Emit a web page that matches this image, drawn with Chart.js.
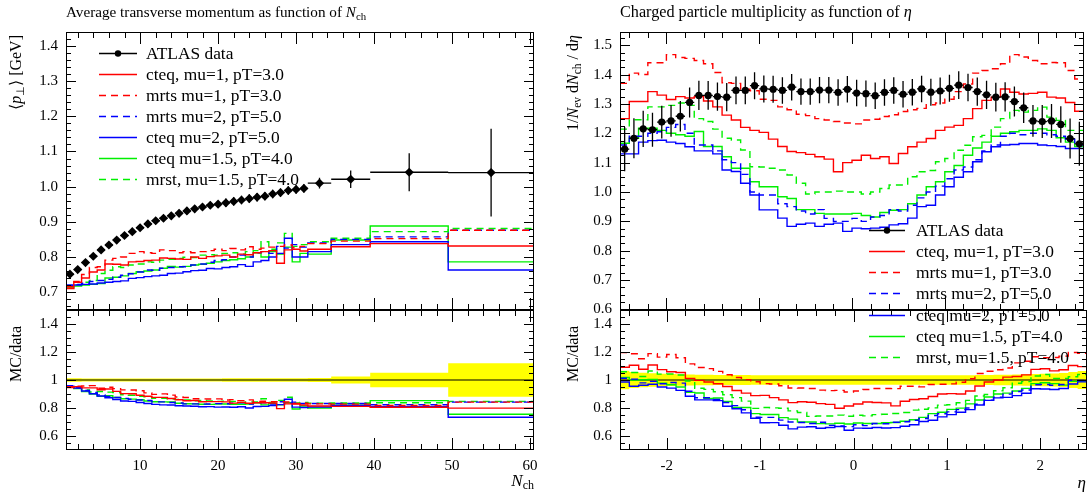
<!DOCTYPE html>
<html><head><meta charset="utf-8">
<script src="https://cdn.jsdelivr.net/npm/chart.js@4.4.1/dist/chart.umd.min.js"></script>
<style>
html,body{margin:0;padding:0;background:#fff;}
#wrap{position:relative;width:1088px;height:497px;overflow:hidden;background:#fff;}
canvas{position:absolute;left:0;top:0;}
</style></head><body>
<div id="wrap">
<canvas id="lr" width="1088" height="497"></canvas>
<canvas id="lm" width="1088" height="497"></canvas>
<canvas id="rr" width="1088" height="497"></canvas>
<canvas id="rm" width="1088" height="497"></canvas>
</div>
<script>
// ---------------- DATA: <pT> vs Nch ----------------
const nchEdges = [0.5,1.5,2.5,3.5,4.5,5.5,6.5,7.5,8.5,9.5,10.5,11.5,12.5,13.5,14.5,15.5,16.5,17.5,18.5,19.5,20.5,21.5,22.5,23.5,24.5,25.5,26.5,27.5,28.5,29.5,30.5,31.5,34.5,39.5,49.5,60.5];
const nchCenters = [1,2,3,4,5,6,7,8,9,10,11,12,13,14,15,16,17,18,19,20,21,22,23,24,25,26,27,28,29,30,31,33,37,44.5,55];
const atlasPt = [0.751,0.764,0.784,0.802,0.820,0.834,0.848,0.861,0.872,0.883,0.894,0.903,0.910,0.917,0.924,0.931,0.937,0.942,0.947,0.950,0.954,0.958,0.962,0.966,0.970,0.973,0.979,0.983,0.989,0.992,0.995,1.010,1.021,1.041,1.040];
const atlasPtErr = [0.009,0.009,0.009,0.009,0.009,0.009,0.009,0.009,0.009,0.009,0.010,0.010,0.010,0.010,0.010,0.010,0.010,0.010,0.010,0.010,0.012,0.012,0.012,0.012,0.012,0.012,0.012,0.012,0.012,0.012,0.012,0.015,0.025,0.054,0.125];
const ptCteq1  = [0.710,0.728,0.740,0.757,0.763,0.780,0.779,0.777,0.786,0.787,0.790,0.791,0.797,0.796,0.794,0.793,0.800,0.796,0.801,0.803,0.805,0.800,0.808,0.806,0.812,0.815,0.818,0.782,0.820,0.822,0.817,0.822,0.829,0.838,0.831];
const ptMrts1  = [0.715,0.730,0.750,0.770,0.772,0.791,0.796,0.800,0.810,0.815,0.812,0.810,0.820,0.818,0.812,0.815,0.812,0.815,0.818,0.822,0.818,0.824,0.820,0.829,0.822,0.825,0.828,0.830,0.834,0.826,0.830,0.838,0.845,0.852,0.876];
const ptMrts2  = [0.720,0.722,0.725,0.730,0.733,0.736,0.742,0.748,0.752,0.757,0.763,0.762,0.768,0.770,0.772,0.772,0.777,0.780,0.785,0.790,0.792,0.800,0.805,0.800,0.812,0.815,0.810,0.830,0.825,0.835,0.828,0.840,0.850,0.857,0.876];
const ptCteq2  = [0.718,0.720,0.722,0.723,0.726,0.728,0.730,0.732,0.739,0.741,0.744,0.746,0.748,0.753,0.754,0.758,0.761,0.762,0.767,0.766,0.770,0.772,0.778,0.773,0.786,0.790,0.800,0.810,0.853,0.800,0.800,0.815,0.835,0.843,0.763];
const ptCteq15 = [0.712,0.717,0.720,0.722,0.724,0.740,0.742,0.746,0.753,0.758,0.760,0.763,0.768,0.773,0.771,0.773,0.777,0.779,0.782,0.786,0.790,0.792,0.795,0.800,0.812,0.800,0.815,0.808,0.828,0.786,0.810,0.808,0.848,0.888,0.786];
const ptMrst15 = [0.715,0.720,0.728,0.733,0.753,0.762,0.772,0.770,0.777,0.780,0.786,0.785,0.791,0.793,0.796,0.799,0.798,0.805,0.806,0.805,0.810,0.812,0.808,0.815,0.818,0.843,0.822,0.840,0.867,0.830,0.835,0.843,0.853,0.872,0.881];

// ---------------- DATA: dN/deta ----------------
const etaEdges = [-2.5,-2.4,-2.3,-2.2,-2.1,-2.0,-1.9,-1.8,-1.7,-1.6,-1.5,-1.4,-1.3,-1.2,-1.1,-1.0,-0.9,-0.8,-0.7,-0.6,-0.5,-0.4,-0.3,-0.2,-0.1,0.0,0.1,0.2,0.3,0.4,0.5,0.6,0.7,0.8,0.9,1.0,1.1,1.2,1.3,1.4,1.5,1.6,1.7,1.8,1.9,2.0,2.1,2.2,2.3,2.4,2.5];
const etaCenters = [-2.45,-2.35,-2.25,-2.15,-2.05,-1.95,-1.85,-1.75,-1.65,-1.55,-1.45,-1.35,-1.25,-1.15,-1.05,-0.95,-0.85,-0.75,-0.65,-0.55,-0.45,-0.35,-0.25,-0.15,-0.05,0.05,0.15,0.25,0.35,0.45,0.55,0.65,0.75,0.85,0.95,1.05,1.15,1.25,1.35,1.45,1.55,1.65,1.75,1.85,1.95,2.05,2.15,2.25,2.35,2.45];
const atlasEta = [1.146,1.183,1.215,1.212,1.238,1.242,1.258,1.305,1.329,1.329,1.325,1.323,1.346,1.346,1.362,1.351,1.350,1.346,1.357,1.342,1.342,1.347,1.347,1.339,1.350,1.337,1.335,1.328,1.339,1.346,1.333,1.340,1.351,1.340,1.344,1.353,1.364,1.356,1.342,1.331,1.323,1.324,1.308,1.287,1.242,1.240,1.242,1.230,1.182,1.164];
const atlasEtaErr = [0.075,0.068,0.062,0.058,0.056,0.054,0.052,0.051,0.050,0.049,0.048,0.048,0.047,0.047,0.046,0.046,0.046,0.045,0.045,0.045,0.045,0.045,0.045,0.045,0.045,0.045,0.045,0.045,0.045,0.045,0.045,0.045,0.045,0.046,0.046,0.046,0.047,0.047,0.048,0.048,0.049,0.050,0.051,0.052,0.054,0.056,0.058,0.062,0.068,0.075];
const etaCteq1  = [1.250,1.308,1.308,1.342,1.330,1.315,1.325,1.320,1.325,1.310,1.290,1.262,1.245,1.220,1.210,1.203,1.180,1.155,1.138,1.134,1.128,1.120,1.112,1.069,1.100,1.108,1.125,1.114,1.120,1.097,1.131,1.154,1.170,1.182,1.210,1.221,1.227,1.250,1.284,1.312,1.323,1.351,1.340,1.334,1.336,1.340,1.323,1.320,1.305,1.275];
const etaMrts1  = [1.370,1.405,1.400,1.440,1.440,1.468,1.458,1.455,1.448,1.437,1.407,1.372,1.370,1.350,1.345,1.316,1.312,1.290,1.280,1.265,1.260,1.250,1.245,1.240,1.235,1.232,1.245,1.248,1.257,1.263,1.274,1.280,1.285,1.297,1.303,1.316,1.342,1.368,1.405,1.414,1.420,1.437,1.468,1.460,1.448,1.437,1.441,1.440,1.414,1.385];
const etaMrts2  = [1.160,1.190,1.190,1.200,1.205,1.220,1.230,1.200,1.160,1.160,1.140,1.110,1.100,1.060,1.000,0.990,0.990,0.960,0.950,0.935,0.925,0.940,0.910,0.900,0.900,0.910,0.900,0.915,0.920,0.940,0.935,0.955,0.980,1.000,1.020,1.045,1.075,1.085,1.110,1.140,1.160,1.190,1.200,1.195,1.200,1.200,1.195,1.190,1.180,1.160];
const etaCteq2  = [1.130,1.130,1.170,1.175,1.176,1.170,1.165,1.154,1.140,1.140,1.130,1.075,1.070,1.030,0.990,0.939,0.939,0.911,0.883,0.890,0.894,0.883,0.890,0.894,0.866,0.877,0.875,0.877,0.880,0.888,0.892,0.911,0.950,0.955,0.990,1.018,1.050,1.069,1.103,1.137,1.154,1.160,1.162,1.165,1.165,1.160,1.158,1.155,1.148,1.148];
const etaCteq15 = [1.166,1.183,1.217,1.217,1.210,1.200,1.195,1.190,1.206,1.155,1.155,1.120,1.081,1.081,1.035,1.018,1.018,0.984,0.978,0.940,0.940,0.927,0.925,0.925,0.925,0.927,0.920,0.915,0.930,0.938,0.940,0.960,0.990,1.018,1.035,1.069,1.090,1.125,1.150,1.170,1.190,1.200,1.205,1.210,1.210,1.215,1.210,1.185,1.170,1.155];
const etaMrst15 = [1.214,1.246,1.246,1.290,1.290,1.295,1.303,1.295,1.250,1.240,1.214,1.183,1.177,1.143,1.086,1.085,1.081,1.075,1.058,1.030,0.993,1.000,1.000,1.003,1.000,1.000,0.993,1.000,1.012,1.024,1.024,1.052,1.069,1.073,1.103,1.114,1.142,1.159,1.188,1.193,1.221,1.250,1.278,1.272,1.278,1.289,1.255,1.244,1.210,1.210];

// ---------------- TICKS ----------------
const nchTickVals = [10,20,30,40,50,60];
const nchTickLabels = ['10','20','30','40','50','60'];
const ptTickVals = [0.7,0.8,0.9,1.0,1.1,1.2,1.3,1.4];
const ptTickLabels = ['0.7','0.8','0.9','1.0','1.1','1.2','1.3','1.4'];
const etaTickVals = [-2,-1,0,1,2];
const etaTickLabels = ['-2','-1','0','1','2'];
const mulTickVals = [0.6,0.7,0.8,0.9,1.0,1.1,1.2,1.3,1.4,1.5];
const mulTickLabels = ['0.6','0.7','0.8','0.9','1.0','1.1','1.2','1.3','1.4','1.5'];
const ratioTickVals = [0.6,0.8,1.0,1.2,1.4];
const ratioTickLabels = ['0.6','0.8','1','1.2','1.4'];

const legendLabels = ['ATLAS data','cteq, mu=1, pT=3.0','mrts mu=1, pT=3.0','mrts mu=2, pT=5.0','cteq mu=2, pT=5.0','cteq mu=1.5, pT=4.0','mrst, mu=1.5, pT=4.0'];
const RED='#ff0000', BLUE='#0000ff', GREEN='#00f000';
const seriesStyle = [ {c:RED,d:false},{c:RED,d:true},{c:BLUE,d:true},{c:BLUE,d:false},{c:GREEN,d:false},{c:GREEN,d:true} ];
const DASH = [7,5];

// ---------------- HELPERS ----------------
const FAM = '"Liberation Serif","Times New Roman",serif';
const fnt = (size, style) => (style ? style + ' ' : '') + size + 'px ' + FAM;

function histPoints(edges, vals){
  const p = vals.map((v,i)=>({x:edges[i], y:v}));
  p.push({x:edges[edges.length-1], y:vals[vals.length-1]});
  return p;
}
function ratio(vals, ref){ return vals.map((v,i)=>v/ref[i]); }
function vBars(xs, ys, es){ const p=[]; xs.forEach((x,i)=>{p.push({x, y:ys[i]-es[i]},{x, y:ys[i]+es[i]},{x, y:null});}); return p; }
function hBars(edges, ys){ const p=[]; ys.forEach((y,i)=>{p.push({x:edges[i], y},{x:edges[i+1], y},{x:edges[i+1], y:null});}); return p; }
function minorTicks(min, max, step){ const o=[]; for(let k=Math.ceil(min/step-1e-9); k*step<=max+1e-9; k++) o.push(+(k*step).toFixed(6)); return o; }

function stepDs(edges, vals, st, order){
  return {data:histPoints(edges, vals), borderColor:st.c, borderWidth:1.4, borderDash:st.d?DASH:[], stepped:'before', pointRadius:0, fill:false, order};
}
function dataDs(xs, ys, style, radius){
  return {data:xs.map((x,i)=>({x, y:ys[i]})), showLine:false, pointStyle:style, pointRadius:radius, pointBackgroundColor:'#000', pointBorderColor:'#000', pointBorderWidth:0, order:0};
}
function barDs(pts){ return {data:pts, borderColor:'#000', borderWidth:1.3, pointRadius:0, spanGaps:false, fill:false, order:1}; }

function yAxis(min, max, vals, labels, width, show){
  return {type:'linear', position:'left', min, max, display:show,
    grid:{display:false, drawTicks:false}, border:{display:false},
    afterBuildTicks:s=>{ s.ticks = vals.map(v=>({value:v})); },
    afterFit:s=>{ s.width = width; },
    ticks:{autoSkip:false, padding:8, color:'#000', font:{family:FAM, size:15}, callback:(v,i)=>labels[i]}};
}
function xAxis(min, max, vals, labels, height, show){
  return {type:'linear', position:'bottom', min, max, display:show,
    grid:{display:false, drawTicks:false}, border:{display:false},
    afterBuildTicks:s=>{ s.ticks = vals.map(v=>({value:v})); },
    afterFit:s=>{ s.height = height; },
    ticks:{autoSkip:false, maxRotation:0, minRotation:0, padding:7, color:'#000', font:{family:FAM, size:15}, callback:(v,i)=>labels[i]}};
}

function drawRich(ctx, segs, x, y, align){
  let w=0; segs.forEach(s=>{ctx.font=s.f; w+=ctx.measureText(s.t).width;});
  let cx = align==='right' ? x-w : x;
  segs.forEach(s=>{ctx.font=s.f; ctx.fillText(s.t, cx, y+(s.dy||0)); cx+=ctx.measureText(s.t).width;});
}
function drawRotRich(ctx, segs, x, yTop){
  ctx.save(); ctx.translate(x, yTop); ctx.rotate(-Math.PI/2); drawRich(ctx, segs, 0, 0, 'right'); ctx.restore();
}
function drawLegend(ctx, x0, x1, tx, y0, dy){
  ctx.save();
  legendLabels.forEach((lab,i)=>{
    const y = Math.round(y0 + i*dy) + 0.5;
    ctx.beginPath(); ctx.lineWidth = i===0 ? 1.3 : 1.4;
    if(i===0){ ctx.strokeStyle='#000'; ctx.setLineDash([]); }
    else { ctx.strokeStyle=seriesStyle[i-1].c; ctx.setLineDash(seriesStyle[i-1].d?DASH:[]); }
    ctx.moveTo(x0, y); ctx.lineTo(x1, y); ctx.stroke();
    ctx.setLineDash([]);
    if(i===0){ ctx.fillStyle='#000'; ctx.beginPath(); ctx.arc((x0+x1)/2, y, 3.2, 0, 2*Math.PI); ctx.fill(); }
    ctx.fillStyle='#000'; ctx.font=fnt(17.4); ctx.textBaseline='alphabetic'; ctx.textAlign='left';
    ctx.fillText(lab, tx, y+5.5);
  });
  ctx.restore();
}

function decoPlugin(d){
  return {id:'deco', afterDraw(chart){
    const ctx=chart.ctx, a=chart.chartArea, xs=chart.scales.x, ys=chart.scales.y;
    ctx.save();
    ctx.strokeStyle='#000'; ctx.lineWidth=1; ctx.setLineDash([]);
    const L=(x1,y1,x2,y2)=>{ctx.beginPath(); ctx.moveTo(x1,y1); ctx.lineTo(x2,y2); ctx.stroke();};
    const xt=(vals,len)=>vals.forEach(v=>{ if(v<=xs.min||v>=xs.max) return; const p=Math.round(xs.getPixelForValue(v))+0.5; L(p,a.bottom,p,a.bottom-len); L(p,a.top,p,a.top+len); });
    const yt=(vals,len)=>vals.forEach(v=>{ if(v<=ys.min||v>=ys.max) return; const p=Math.round(ys.getPixelForValue(v))+0.5; L(a.left,p,a.left+len,p); L(a.right,p,a.right-len,p); });
    xt(d.xMinor, 6); xt(d.xMajor, 12); yt(d.yMinor, 5); yt(d.yMajor, 10);
    ctx.strokeRect(Math.round(a.left)+0.5, Math.round(a.top)+0.5, Math.round(a.right-a.left)-1, Math.round(a.bottom-a.top)-1);
    ctx.fillStyle='#000'; ctx.textBaseline='alphabetic'; ctx.textAlign='left';
    if(d.text) d.text(ctx, a);
    ctx.restore();
  }};
}

function makeChart(id, datasets, padding, scales, deco){
  return new Chart(document.getElementById(id), {
    type:'line', data:{datasets},
    options:{responsive:false, animation:false, events:[], devicePixelRatio:1,
      layout:{padding}, plugins:{legend:{display:false}, tooltip:{enabled:false}},
      elements:{line:{tension:0}},
      scales},
    plugins:[decoPlugin(deco)]
  });
}

const ptSeries = [ptCteq1, ptMrts1, ptMrts2, ptCteq2, ptCteq15, ptMrst15];
const etaSeries = [etaCteq1, etaMrts1, etaMrts2, etaCteq2, etaCteq15, etaMrst15];

function bandDs(edges, vals, errs){
  const lo = vals.map((v,i)=>1-errs[i]/v), hi = vals.map((v,i)=>1+errs[i]/v);
  return [
    {data:histPoints(edges, lo), borderColor:'rgba(0,0,0,0)', borderWidth:1, stepped:'before', pointRadius:0, fill:false, order:20},
    {data:histPoints(edges, hi), borderColor:'rgba(0,0,0,0)', borderWidth:1, stepped:'before', pointRadius:0, fill:'-1', backgroundColor:'#ffff00', order:21}
  ];
}

// ---------------- LEFT MAIN ----------------
makeChart('lm',
  [dataDs(nchCenters, atlasPt, 'rectRot', 4.6), barDs(vBars(nchCenters, atlasPt, atlasPtErr).concat(hBars(nchEdges, atlasPt)))]
    .concat(ptSeries.map((s,i)=>stepDs(nchEdges, s, seriesStyle[i], 2+i))),
  {left:0, top:32, right:554, bottom:187},
  {x:xAxis(0.5, 60.5, nchTickVals, nchTickLabels, 0, false), y:yAxis(0.649, 1.44, ptTickVals, ptTickLabels, 66, true)},
  {xMajor:nchTickVals, xMinor:minorTicks(0.5,60.5,2), yMajor:ptTickVals, yMinor:minorTicks(0.649,1.44,0.02),
   text:(ctx)=>{
     drawRich(ctx, [{t:'Average transverse momentum as function of ', f:fnt(15.2)},{t:'N', f:fnt(15.2,'italic')},{t:'ch', f:fnt(10.8), dy:3}], 66, 17, 'left');
     drawRotRich(ctx, [{t:'\u27E8', f:fnt(16)},{t:'p', f:fnt(16,'italic')},{t:'\u22A5', f:fnt(11), dy:3},{t:'\u27E9 [GeV]', f:fnt(16)}], 21, 35);
     drawLegend(ctx, 99, 137, 146, 53, 21.05);
   }});

// ---------------- LEFT RATIO ----------------
makeChart('lr',
  [{data:[{x:0.5,y:1},{x:60.5,y:1}], borderColor:'#000', borderWidth:1.2, pointRadius:0, fill:false, order:15}]
    .concat(ptSeries.map((s,i)=>stepDs(nchEdges, ratio(s, atlasPt), seriesStyle[i], 2+i)))
    .concat(bandDs(nchEdges, atlasPt, atlasPtErr)),
  {left:0, top:310, right:554, bottom:17},
  {x:xAxis(0.5, 60.5, nchTickVals, nchTickLabels, 30, true), y:yAxis(0.5, 1.5, ratioTickVals, ratioTickLabels, 66, true)},
  {xMajor:nchTickVals, xMinor:minorTicks(0.5,60.5,2), yMajor:ratioTickVals, yMinor:minorTicks(0.5,1.5,0.05),
   text:(ctx)=>{
     drawRotRich(ctx, [{t:'MC/data', f:fnt(16)}], 21, 326);
     drawRich(ctx, [{t:'N', f:fnt(17,'italic')},{t:'ch', f:fnt(12), dy:3}], 534, 486, 'right');
   }});

// ---------------- RIGHT RATIO ----------------
makeChart('rr',
  [{data:[{x:-2.5,y:1},{x:2.5,y:1}], borderColor:'#000', borderWidth:1.2, pointRadius:0, fill:false, order:15}]
    .concat(etaSeries.map((s,i)=>stepDs(etaEdges, ratio(s, atlasEta), seriesStyle[i], 2+i)))
    .concat(bandDs(etaEdges, atlasEta, atlasEtaErr)),
  {left:552, top:310, right:1, bottom:17},
  {x:xAxis(-2.5, 2.5, etaTickVals, etaTickLabels, 30, true), y:yAxis(0.5, 1.5, ratioTickVals, ratioTickLabels, 68, true)},
  {xMajor:etaTickVals, xMinor:minorTicks(-2.5,2.5,0.2), yMajor:ratioTickVals, yMinor:minorTicks(0.5,1.5,0.05),
   text:(ctx)=>{
     drawRotRich(ctx, [{t:'MC/data', f:fnt(16)}], 578, 326);
     drawRich(ctx, [{t:'\u03B7', f:fnt(17,'italic')}], 1086, 488, 'right');
   }});

// ---------------- RIGHT MAIN ----------------
makeChart('rm',
  [dataDs(etaCenters, atlasEta, 'circle', 3.6), barDs(vBars(etaCenters, atlasEta, atlasEtaErr).concat(hBars(etaEdges, atlasEta)))]
    .concat(etaSeries.map((s,i)=>stepDs(etaEdges, s, seriesStyle[i], 2+i))),
  {left:552, top:32, right:1, bottom:187},
  {x:xAxis(-2.5, 2.5, etaTickVals, etaTickLabels, 0, false), y:yAxis(0.598, 1.545, mulTickVals, mulTickLabels, 68, true)},
  {xMajor:etaTickVals, xMinor:minorTicks(-2.5,2.5,0.2), yMajor:mulTickVals, yMinor:minorTicks(0.598,1.545,0.025),
   text:(ctx)=>{
     drawRich(ctx, [{t:'Charged particle multiplicity as function of ', f:fnt(16.2)},{t:'\u03B7', f:fnt(16.2,'italic')}], 620, 17, 'left');
     drawRotRich(ctx, [{t:'1/', f:fnt(16)},{t:'N', f:fnt(16,'italic')},{t:'ev', f:fnt(11.5), dy:3},{t:' d', f:fnt(16)},{t:'N', f:fnt(16,'italic')},{t:'ch', f:fnt(11.5), dy:3},{t:' / d', f:fnt(16)},{t:'\u03B7', f:fnt(16,'italic')}], 578, 35);
     drawLegend(ctx, 869, 905, 916, 229.5, 21.3);
   }});
</script>
</body></html>
